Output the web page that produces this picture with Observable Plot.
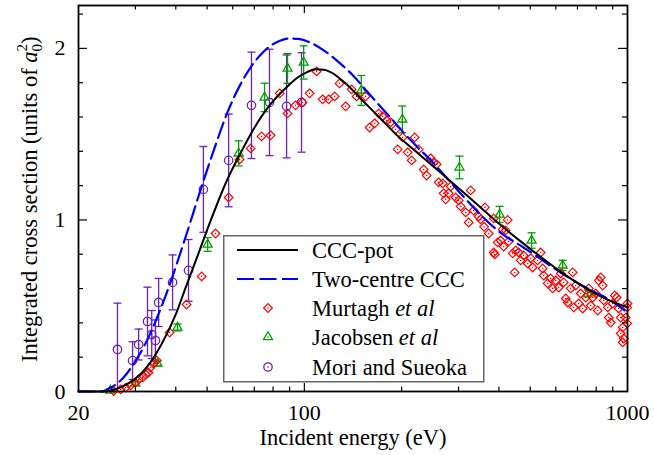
<!DOCTYPE html>
<html><head><meta charset="utf-8">
<script src="https://cdn.jsdelivr.net/npm/d3@7"></script>
<script src="https://cdn.jsdelivr.net/npm/@observablehq/plot@0.6"></script>
<style>
html,body{margin:0;padding:0;background:#fff;}
#wrap{position:relative;width:654px;height:455px;font-family:"Liberation Serif","Times New Roman",serif;}
#legend{position:absolute;left:223px;top:235px;}
</style></head><body><div id="wrap"></div>
<script>
// ---- Data (energy in eV, cross section in units of a0^2) ----
const cccPotE = [20, 24.3, 26, 28, 30, 32.3, 36, 40, 43, 46.5, 50.2, 57.9, 63.5, 68.2, 73.2, 78.6, 84.4, 90, 95.3, 102, 108.3, 115, 120.6, 136.1, 152.5, 172.2, 194.4, 213.2, 251.3, 320, 405, 467, 513, 653, 826, 1000];
const cccPotY = [0, 0, 0.012, 0.038, 0.075, 0.135, 0.27, 0.45, 0.61, 0.78, 0.95, 1.24, 1.39, 1.50, 1.595, 1.675, 1.74, 1.79, 1.83, 1.862, 1.878, 1.876, 1.862, 1.785, 1.69, 1.59, 1.49, 1.425, 1.31, 1.14, 0.97, 0.875, 0.815, 0.67, 0.555, 0.49];

const twoCentreE = [20, 23.5, 25, 27.4, 30, 32.3, 35, 38.4, 42.3, 48.7, 52.4, 57.9, 63, 68.2, 73, 78.6, 84, 90, 96, 104, 114.5, 129.5, 141, 156.2, 172.2, 190, 206, 251.3, 311, 351, 405, 467, 513, 591, 753, 887, 1000];
const twoCentreY = [0, 0, 0.02, 0.076, 0.177, 0.283, 0.43, 0.63, 0.865, 1.226, 1.404, 1.63, 1.78, 1.89, 1.96, 2.015, 2.045, 2.058, 2.055, 2.035, 1.99, 1.91, 1.845, 1.75, 1.66, 1.57, 1.495, 1.33, 1.135, 1.03, 0.925, 0.85, 0.80, 0.72, 0.60, 0.53, 0.46];

const murtaghE = [25.7, 27.0, 28.0, 29.0, 30.0, 30.7, 31.6, 32.3, 32.9, 33.4, 34.1, 34.9, 38.3, 43.2, 48.1, 53.1, 58.3, 63.0, 68.2, 73.7, 78.6, 83.9, 88.7, 93.9, 98.7, 103.8, 109.1, 113.9, 118.9, 124.1, 128.5, 134.2, 140.0, 145.1, 154.7, 159.2, 165.0, 169.8, 174.7, 179.7, 184.9, 191.6, 194.4, 201.4, 208.8, 214.8, 219.5, 225.8, 234.0, 239.0, 246.0, 251.3, 256.7, 260.4, 268.0, 269.8, 273.7, 279.6, 283.6, 293.9, 300.3, 304.6, 315.7, 322.5, 327.1, 334.1, 346.2, 351.2, 360, 362, 372.0, 385.5, 385.5, 388.3, 396.6, 405.0, 410.9, 413.8, 419.8, 425.8, 428.9, 441.4, 447.6, 450.8, 460.5, 467.1, 477.1, 491.1, 501.7, 508.8, 527.2, 538.6, 546.4, 550.3, 566.2, 578.5, 586.8, 599.5, 612.6, 621.4, 634.6, 643.8, 653.0, 667.2, 676.7, 681.6, 691.4, 706.4, 716.5, 726.8, 742.5, 758.8, 769.7, 780.7, 797.5, 808.9, 814.7, 826.3, 838.1, 844.1, 868.7, 874.9, 887.4, 900.1, 913.0, 926.0, 939.2, 952.7, 952.7, 966.3, 973.2, 966.3, 987.1, 998, 998, 1000];
const murtaghY = [0.003, 0.012, 0.023, 0.035, 0.052, 0.07, 0.082, 0.099, 0.111, 0.14, 0.163, 0.181, 0.344, 0.507, 0.671, 0.921, 1.131, 1.353, 1.417, 1.487, 1.493, 1.738, 1.621, 1.668, 1.685, 1.738, 1.866, 1.703, 1.703, 1.72, 1.796, 1.662, 1.761, 1.72, 1.72, 1.539, 1.563, 1.621, 1.603, 1.58, 1.569, 1.528, 1.411, 1.481, 1.394, 1.347, 1.481, 1.411, 1.294, 1.259, 1.359, 1.335, 1.324, 1.219, 1.213, 1.155, 1.12, 1.155, 1.195, 1.131, 1.114, 1.079, 1.044, 0.985, 1.172, 1.055, 1.02, 1.003, 0.96, 1.073, 0.921, 1.009, 0.81, 0.799, 0.869, 0.88, 0.945, 0.845, 0.939, 1.0, 0.875, 0.805, 0.694, 0.822, 0.81, 0.764, 0.793, 0.746, 0.776, 0.723, 0.764, 0.81, 0.717, 0.676, 0.63, 0.659, 0.601, 0.647, 0.606, 0.688, 0.636, 0.542, 0.519, 0.601, 0.694, 0.49, 0.618, 0.513, 0.571, 0.484, 0.548, 0.601, 0.501, 0.548, 0.571, 0.472, 0.647, 0.665, 0.618, 0.531, 0.49, 0.431, 0.402, 0.513, 0.56, 0.548, 0.484, 0.431, 0.338, 0.373, 0.309, 0.286, 0.431, 0.397, 0.49, 0.513];

const jacobsenE = [25.1, 30.0, 35.1, 40.5, 50.2, 62.6, 75.3, 88.7, 99.5, 150, 201, 302, 402, 505, 630, 753];
const jacobsenY = [0.006, 0.047, 0.163, 0.373, 0.857, 1.388, 1.714, 1.883, 1.918, 1.755, 1.586, 1.306, 1.032, 0.88, 0.735, 0.571];
const jacobsenErr = [0.01, 0.01, 0.015, 0.02, 0.04, 0.073, 0.083, 0.087, 0.097, 0.087, 0.078, 0.066, 0.047, 0.045, 0.03, 0.02];

const moriE = [26.4, 29.4, 30.7, 32.7, 33.7, 34.6, 35.4, 39.1, 43.8, 48.7, 58.3, 68.6, 78.0, 88.1, 98.0];
const moriY = [0.245, 0.18, 0.274, 0.408, 0.332, 0.297, 0.519, 0.636, 0.706, 1.178, 1.347, 1.668, 1.685, 1.662, 1.685];
const moriErr = [0.27, 0.11, 0.09, 0.20, 0.14, 0.12, 0.14, 0.16, 0.18, 0.25, 0.27, 0.31, 0.31, 0.30, 0.29];

const xTickLabels = [20, 100, 1000];
const xMajorTicks = [100];
const xMinorTicks = [30, 40, 50, 60, 70, 80, 90, 200, 300, 400, 500, 600, 700, 800, 900];
const yTickLabels = [0, 1, 2];
const yMajorTicks = [1, 2];
const yMinorTicks = [0.2, 0.4, 0.6, 0.8, 1.2, 1.4, 1.6, 1.8, 2.2];

const seriesNames = ["CCC-pot", "Two-centre CCC", "Murtagh", "Jacobsen", "Mori and Sueoka"];

// ---- Styles ----
const C = {ccc: "#000000", two: "#0000ff", mur: "#ff0000", jac: "#00a000", mori: "#6f22b8"};
const W = 654, H = 455, mL = 78, mR = 27, mT = 5, mB = 64;
const pw = W - mL - mR, ph = H - mT - mB;
const FONT = "Liberation Serif, Times New Roman, serif";
const R = {mur: 3.9, jac: 4.3, mori: 4.2};

const zip = (xs, ys, es) => xs.map((x, i) => ({E: x, y: ys[i], err: es ? es[i] : 0}));
const ccc = zip(cccPotE, cccPotY);
const two = zip(twoCentreE, twoCentreY);
const mur = zip(murtaghE, murtaghY);
const jac = zip(jacobsenE, jacobsenY, jacobsenErr);
const mori = zip(moriE, moriY, moriErr);

const cap = {draw(ctx) { ctx.moveTo(-4, 0); ctx.lineTo(4, 0); }};

function errMarks(data, color) {
  return [
    Plot.ruleX(data, {x: "E", y1: d => d.y - d.err, y2: d => d.y + d.err, stroke: color, strokeWidth: 1.3, clip: true}),
    Plot.dot(data, {x: "E", y: d => d.y + d.err, symbol: cap, stroke: color, strokeWidth: 1.3, clip: true}),
    Plot.dot(data, {x: "E", y: d => d.y - d.err, symbol: cap, stroke: color, strokeWidth: 1.3, clip: true})
  ];
}
const centre = (data, color) => Plot.dot(data, {x: "E", y: "y", r: 0.8, fill: color, stroke: null});

const chart = Plot.plot({
  width: W, height: H,
  marginLeft: mL, marginRight: mR, marginTop: mT, marginBottom: mB,
  x: {type: "log", domain: [20, 1000]},
  y: {domain: [0, 2.25]},
  style: {fontFamily: FONT, fontSize: "22px", background: "white", color: "black", overflow: "visible"},
  marks: [
    // data
    ...errMarks(mori, C.mori),
    Plot.dot(mori, {x: "E", y: "y", r: R.mori, symbol: "circle", stroke: C.mori, strokeWidth: 1.3, fill: "none"}),
    centre(mori, C.mori),
    ...errMarks(jac, C.jac),
    Plot.dot(jac, {x: "E", y: "y", r: R.jac, symbol: "triangle2", stroke: C.jac, strokeWidth: 1.3}),
    centre(jac, C.jac),
    Plot.dot(mur, {x: "E", y: "y", r: R.mur, symbol: "diamond2", stroke: C.mur, strokeWidth: 1.2}),
    centre(mur, C.mur),
    // theory curves
    Plot.line(two, {x: "E", y: "y", stroke: C.two, strokeWidth: 2.2, strokeDasharray: "16,6", curve: "monotone-x"}),
    Plot.line(ccc, {x: "E", y: "y", stroke: C.ccc, strokeWidth: 2, curve: "monotone-x"}),
    // inward ticks on all four sides
    Plot.ruleX(xMajorTicks, {x: d => d, insetTop: ph - 8, stroke: "black", strokeWidth: 1.2}),
    Plot.ruleX(xMajorTicks, {x: d => d, insetBottom: ph - 8, stroke: "black", strokeWidth: 1.2}),
    Plot.ruleX(xMinorTicks, {x: d => d, insetTop: ph - 4.5, stroke: "black", strokeWidth: 1.2}),
    Plot.ruleX(xMinorTicks, {x: d => d, insetBottom: ph - 4.5, stroke: "black", strokeWidth: 1.2}),
    Plot.ruleY(yMajorTicks, {y: d => d, insetRight: pw - 9, stroke: "black", strokeWidth: 1.2}),
    Plot.ruleY(yMajorTicks, {y: d => d, insetLeft: pw - 9, stroke: "black", strokeWidth: 1.2}),
    Plot.ruleY(yMinorTicks, {y: d => d, insetRight: pw - 5, stroke: "black", strokeWidth: 1.2}),
    Plot.ruleY(yMinorTicks, {y: d => d, insetLeft: pw - 5, stroke: "black", strokeWidth: 1.2}),
    Plot.frame({stroke: "black", strokeWidth: 1.8}),
    Plot.axisX(xTickLabels, {tickSize: 0, tickPadding: 13, fontSize: 22, label: null, tickFormat: d => String(d)}),
    Plot.axisY(yTickLabels, {tickSize: 0, tickPadding: 13, fontSize: 22, label: null, tickFormat: d => String(d)})
  ]
});

const wrap = document.getElementById("wrap");
wrap.appendChild(chart);

// axis titles
const svg = d3.select(chart);
svg.append("text")
  .attr("x", 353).attr("y", 444.5).attr("text-anchor", "middle")
  .attr("font-family", FONT).attr("font-size", 22.5).attr("fill", "black")
  .text("Incident energy (eV)");
const yl = svg.append("text")
  .attr("transform", "translate(37,362) rotate(-90)")
  .attr("text-anchor", "start")
  .attr("font-family", FONT).attr("font-size", 22.5).attr("fill", "black");
yl.append("tspan").text("Integrated cross section (units of ");
yl.append("tspan").attr("font-style", "italic").text("a");
yl.append("tspan").attr("font-size", 15).attr("dy", 5).text("0");
yl.append("tspan").attr("font-size", 15).attr("dx", -7.5).attr("dy", -15).text("2");
yl.append("tspan").attr("dy", 10).text(")");

// legend
const lg = d3.select(wrap).append("svg").attr("id", "legend")
  .attr("width", 263).attr("height", 149);
lg.append("rect").attr("x", 0.75).attr("y", 0.75).attr("width", 260).attr("height", 146)
  .attr("fill", "white").attr("stroke", "#666").attr("stroke-width", 1.5);
const rows = [15, 44, 73, 102, 132];
lg.append("line").attr("x1", 14).attr("x2", 75).attr("y1", rows[0]).attr("y2", rows[0]).attr("stroke", C.ccc).attr("stroke-width", 2);
lg.append("line").attr("x1", 14).attr("x2", 75).attr("y1", rows[1]).attr("y2", rows[1]).attr("stroke", C.two).attr("stroke-width", 2.2).attr("stroke-dasharray", "17,5.5");
const sym = (type, r) => d3.symbol(type, r * r * Math.PI)();
lg.append("path").attr("d", sym(d3.symbolDiamond2, R.mur)).attr("transform", `translate(45,${rows[2]})`).attr("fill", "none").attr("stroke", C.mur).attr("stroke-width", 1.2);
lg.append("path").attr("d", sym(d3.symbolTriangle2, R.jac)).attr("transform", `translate(45,${rows[3]})`).attr("fill", "none").attr("stroke", C.jac).attr("stroke-width", 1.3);
lg.append("circle").attr("cx", 45).attr("cy", rows[4]).attr("r", R.mori).attr("fill", "none").attr("stroke", C.mori).attr("stroke-width", 1.3);
[[rows[2], C.mur], [rows[3], C.jac], [rows[4], C.mori]].forEach(([y, c]) => lg.append("circle").attr("cx", 45).attr("cy", y).attr("r", 0.8).attr("fill", c));
const lt = (i) => lg.append("text").attr("x", 89).attr("y", rows[i] + 7.5).attr("font-family", FONT).attr("font-size", 22.5).attr("fill", "black");
lt(0).text(seriesNames[0]);
lt(1).text(seriesNames[1]);
{ const t = lt(2); t.append("tspan").text(seriesNames[2] + " "); t.append("tspan").attr("font-style", "italic").text("et al"); }
{ const t = lt(3); t.append("tspan").text(seriesNames[3] + " "); t.append("tspan").attr("font-style", "italic").text("et al"); }
lt(4).text(seriesNames[4]);
</script></body></html>
